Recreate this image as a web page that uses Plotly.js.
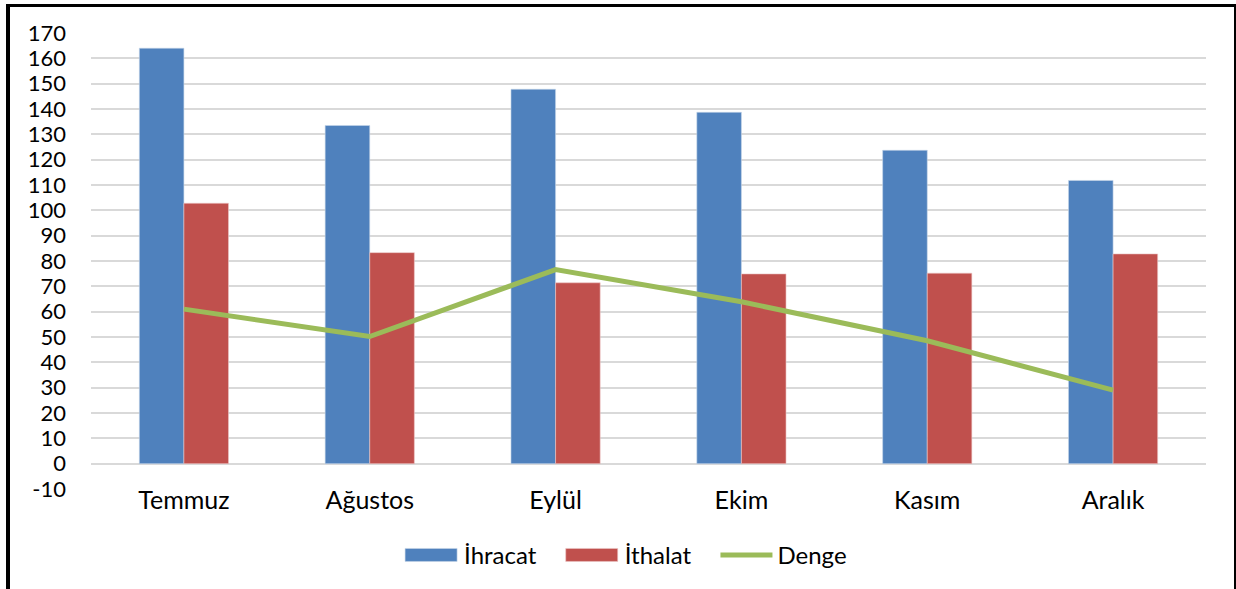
<!DOCTYPE html>
<html>
<head>
<meta charset="utf-8">
<script src="https://cdn.plot.ly/plotly-3.0.1.min.js"></script>
<style>
html,body{margin:0;padding:0;background:#fff;}
#chart{width:1236px;height:589px;}
#frame{position:absolute;left:6px;top:4px;width:1224px;height:600px;border-left:4px solid #000;border-top:3px solid #000;border-right:2px solid #000;pointer-events:none;}
</style>
</head>
<body>
<div id="chart"></div>
<div id="frame"></div>
<script>
const months = ["Temmuz", "Ağustos", "Eylül", "Ekim", "Kasım", "Aralık"];
const ihracat = [164, 133.5, 147.8, 138.7, 123.7, 111.8];
const ithalat = [102.8, 83.3, 71.4, 74.9, 75.2, 82.8];
const denge = [61, 50.2, 76.6, 63.9, 48.5, 29];
const yTicks = [-10,0,10,20,30,40,50,60,70,80,90,100,110,120,130,140,150,160,170];

const font = {family: "Lato, 'Liberation Sans', sans-serif", color: "#000"};

const data = [
  {type: "bar", name: "İhracat", x: months, y: ihracat,
   marker: {color: "#4f81bd", line: {color: "#c8d6ea", width: 0.6}}},
  {type: "bar", name: "İthalat", x: months, y: ithalat,
   marker: {color: "#c0504d", line: {color: "#ecc8c7", width: 0.6}}},
  {type: "scatter", mode: "lines", name: "Denge", x: months, y: denge,
   line: {color: "#9bbb59", width: 5}}
];

const layout = {
  width: 1236, height: 589,
  margin: {l: 91, r: 30, t: 33, b: 99},
  paper_bgcolor: "#fff", plot_bgcolor: "#fff",
  font: Object.assign({size: 22}, font),
  barmode: "group", bargap: 0.52, bargroupgap: 0,
  showlegend: true,
  legend: {orientation: "h", x: 0.479, xanchor: "center", y: -0.143, yanchor: "middle",
           bgcolor: "rgba(0,0,0,0)",
           font: Object.assign({size: 24}, font), traceorder: "normal", itemwidth: 52},
  xaxis: {type: "category", showgrid: false, zeroline: false, showline: false, ticks: "",
          automargin: false, ticklabelstandoff: -6,
          tickfont: Object.assign({size: 25}, font), fixedrange: true},
  yaxis: {range: [-10, 170], tickmode: "array", tickvals: yTicks, ticktext: yTicks.map(String),
          automargin: false,
          showgrid: true, gridcolor: "#d9d9d9", gridwidth: 2, zeroline: false, showline: false,
          ticks: "", ticklabelstandoff: 24, tickfont: Object.assign({size: 22}, font), fixedrange: true}
};

const gd = document.getElementById("chart");
const legendShift = [-18, 3, 22];
let adjusted = false;
function adjustLegend() {
  if (adjusted) return;
  const traces = gd.querySelectorAll(".legend .traces");
  if (!traces.length) return;
  adjusted = true;
  gd.querySelectorAll(".legend [clip-path]").forEach(function (e) { e.removeAttribute("clip-path"); });
  traces.forEach(function (t, i) {
    if (i < 2) {
      t.querySelectorAll(".legendpoints path").forEach(function (p) {
        p.setAttribute("d", "M24,6.5H-28V-6.5H24Z");
      });
    }
    const tr = t.getAttribute("transform") || "";
    const m = tr.match(/translate\(\s*([-\d.]+)[ ,]+([-\d.]+)\s*\)/);
    if (m) {
      t.setAttribute("transform", "translate(" + (parseFloat(m[1]) + legendShift[i]) + "," + m[2] + ")");
    }
  });
}
Plotly.newPlot(gd, data, layout, {displayModeBar: false, staticPlot: true}).then(function () {
  adjustLegend();
});
</script>
</body>
</html>
